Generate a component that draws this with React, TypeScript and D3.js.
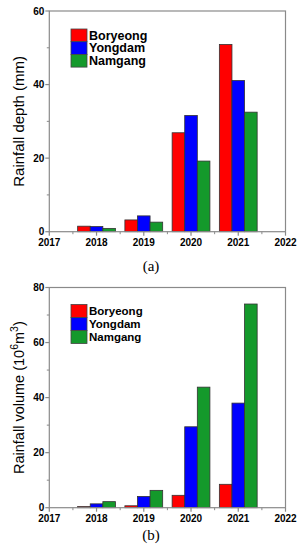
import * as d3 from "d3";

const years = [2018, 2019, 2020, 2021];
const reservoirs = ["Boryeong", "Yongdam", "Namgang"];
const colors = ["#ff0000", "#0000ff", "#14992b"];

// rainfall depth (mm), one array per reservoir
const depthBoryeong = [1.5, 3.2, 26.9, 50.9];
const depthYongdam = [1.4, 4.3, 31.6, 41.1];
const depthNamgang = [0.9, 2.6, 19.2, 32.5];

// rainfall volume (10^6 m^3)
const volBoryeong = [0.4, 0.7, 4.5, 8.5];
const volYongdam = [1.4, 4.1, 29.4, 38.0];
const volNamgang = [2.2, 6.3, 43.8, 74.0];

const xTicks = [2017, 2018, 2019, 2020, 2021, 2022];
const depthTicks = [0, 20, 40, 60];
const volTicks = [0, 20, 40, 60, 80];

const W = 307;
const H = 550;
const left = 49.3;
const right = 285.5;
const font = "Arial, 'Liberation Sans', sans-serif";
const axisColor = "#8a8a8a";

type PanelProps = {
  top: number;
  bottom: number;
  yMax: number;
  ticks: number[];
  series: number[][];
  legendY: number;
  legendRow: number;
  legendFont: number;
  caption: string;
  captionY: number;
  labelSize: number;
  label: React.ReactNode;
};

const Panel = ({top, bottom, yMax, ticks, series, legendY, legendRow, legendFont, caption, captionY, labelSize, label}: PanelProps) => {
  const x = d3.scaleLinear([2017, 2022], [left, right]);
  const y = d3.scaleLinear([0, yMax], [bottom, top]);
  const band = 0.8 / reservoirs.length;
  const bw = x(2017 + band) - x(2017);
  const minorY = d3.range(10, yMax, 20);
  const minorX = d3.range(2017.5, 2022, 1);
  return (
    <g>
      {series.map((vals, si) =>
        vals.map((v, i) => (
          <rect
            key={`${si}-${i}`}
            x={x(years[i] - 0.4 + si * band)}
            y={y(v)}
            width={bw}
            height={y(0) - y(v)}
            fill={colors[si]}
            stroke="#333"
            strokeWidth={0.8}
          />
        ))
      )}
      <rect x={left} y={top} width={right - left} height={bottom - top} fill="none" stroke={axisColor} strokeWidth={1.2} />
      {ticks.map(t => (
        <g key={t}>
          <line x1={left - 4} x2={left} y1={y(t)} y2={y(t)} stroke={axisColor} strokeWidth={1.2} />
          <text x={left - 5} y={y(t)} dy="0.35em" textAnchor="end" fontFamily={font} fontWeight="bold" fontSize={10}>{t}</text>
        </g>
      ))}
      {minorY.map(t => (
        <line key={t} x1={left - 2.5} x2={left} y1={y(t)} y2={y(t)} stroke={axisColor} strokeWidth={1} />
      ))}
      {xTicks.map(t => (
        <g key={t}>
          <line x1={x(t)} x2={x(t)} y1={bottom} y2={bottom + 4} stroke={axisColor} strokeWidth={1.2} />
          <text x={x(t)} y={bottom + 14} textAnchor="middle" fontFamily={font} fontWeight="bold" fontSize={10}>{t}</text>
        </g>
      ))}
      {minorX.map(t => (
        <line key={t} x1={x(t)} x2={x(t)} y1={bottom} y2={bottom + 2.5} stroke={axisColor} strokeWidth={1} />
      ))}
      {reservoirs.map((r, i) => (
        <g key={r}>
          <rect x={71} y={legendY + i * legendRow} width={16} height={legendRow} fill={colors[i]} stroke="#444" strokeWidth={0.8} />
          <text x={89} y={legendY + i * legendRow + legendRow / 2} dy="0.35em" fontFamily={font} fontWeight="bold" fontSize={legendFont}>{r}</text>
        </g>
      ))}
      <text transform={`translate(23.5,${(top + bottom) / 2}) rotate(-90)`} textAnchor="middle" fontFamily={font} fontSize={labelSize}>{label}</text>
      <text x={151} y={captionY} textAnchor="middle" fontFamily="'Liberation Serif', 'DejaVu Serif', serif" fontSize={15}>{caption}</text>
    </g>
  );
};

export default function App() {
  return (
    <svg width={W} height={H} style={{position: "absolute", left: 0, top: 0, background: "#fff"}}>
      <Panel
        top={11}
        bottom={231.7}
        yMax={60}
        ticks={depthTicks}
        series={[depthBoryeong, depthYongdam, depthNamgang]}
        legendY={29}
        legendRow={12.7}
        legendFont={12.5}
        caption="(a)"
        captionY={271}
        labelSize={15}
        label="Rainfall depth (mm)"
      />
      <Panel
        top={287.5}
        bottom={507.7}
        yMax={80}
        ticks={volTicks}
        series={[volBoryeong, volYongdam, volNamgang]}
        legendY={304.5}
        legendRow={13}
        legendFont={11.5}
        caption="(b)"
        captionY={540}
        labelSize={14.5}
        label={
          <>
            Rainfall volume (10<tspan dy={-6} fontSize={10.5}>6</tspan>
            <tspan dy={6}>m</tspan>
            <tspan dy={-6} fontSize={10.5}>3</tspan>
            <tspan dy={6}>)</tspan>
          </>
        }
      />
    </svg>
  );
}
